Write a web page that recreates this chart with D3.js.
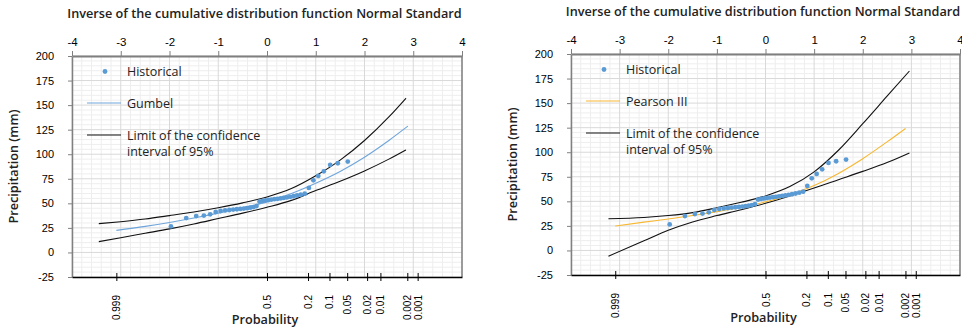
<!DOCTYPE html>
<html>
<head>
<meta charset="utf-8">
<script src="https://cdn.jsdelivr.net/npm/d3@7"></script>
<style>
  body { margin: 0; background: #fff; }
  svg { display: block; }
  .tick text { font-family: "Liberation Sans", Arial, sans-serif; fill: #000; }
  .ttl { font-family: "Open Sans", "Noto Sans", sans-serif; font-weight: 600; fill: #222; }
  .leg { font-family: "Open Sans", "Noto Sans", sans-serif; font-size: 12.5px; fill: #222; }
</style>
</head>
<body>
<svg id="chart" width="962" height="331"></svg>
<script>
// top axis: inverse of standard normal cdf
const zTicks = [-4, -3, -2, -1, 0, 1, 2, 3, 4];
const yTicks = [-25, 0, 25, 50, 75, 100, 125, 150, 175, 200];
// bottom axis: exceedance probability
const probTicks = [0.999, 0.5, 0.2, 0.1, 0.05, 0.02, 0.01, 0.002, 0.001];
const probLabels = ["0.999", "0.5", "0.2", "0.1", "0.05", "0.02", "0.01", "0.002", "0.001"];

// observed precipitation, sorted ascending (plotted at rank / (N+1))
const historicalN = 40;
const historical = [26.5, 35, 37, 37.5, 38.8, 41.2, 42.2, 42.8, 43.2, 43.6,
  44.0, 44.3, 44.7, 45.1, 45.6, 46.2, 47.2, 51.8, 52.5, 53.0,
  53.4, 53.8, 54.2, 54.6, 55.0, 55.5, 56.0, 56.6, 57.2, 58.0,
  58.8, 59.8, 65.7, 73.4, 77.9, 82.6, 89.1, 90.8, 92.5];

// Gumbel fit (left chart), x in standard normal variate
const gumbelZ = [-3.09, -2.5, -2, -1.5, -1, -0.5, 0, 0.5, 1, 1.5, 2, 2.5, 2.89];
const gumbel  = [22.5, 26.5, 30.5, 35, 40, 45.5, 51.5, 60, 70.5, 82.5, 97, 114, 128.6];
const gumUpperZ = [-3.45, -3, -2.5, -2, -1.5, -1, -0.5, 0, 0.5, 1, 1.5, 2, 2.5, 2.85];
const gumUpper  = [29.3, 31.3, 34, 37.5, 41.2, 45.5, 50.5, 56.5, 65, 78, 94, 114, 138, 157];
const gumLowerZ = [-3.45, -3, -2.5, -2, -1.5, -1, -0.5, 0, 0.5, 1, 1.5, 2, 2.5, 2.85];
const gumLower  = [11, 15, 19.5, 24, 29, 34.5, 40, 46, 53, 63, 72.5, 83, 95, 104.4];

// Pearson III fit (right chart)
const pearsonZ = [-3.09, -2.5, -2, -1.5, -1, -0.5, 0, 0.5, 1, 1.5, 2, 2.5, 2.88];
const pearson  = [24.8, 28.8, 32, 35.5, 39.5, 44, 49.5, 56.5, 66, 78.4, 93.4, 110.5, 124.2];
const peaUpperZ = [-3.23, -2.5, -2, -1.5, -1, -0.5, 0, 0.5, 1, 1.5, 2, 2.5, 2.96];
const peaUpper  = [32.3, 33.5, 35.5, 38.5, 43.5, 49, 55.5, 65, 80, 102, 129, 157, 182.7];
const peaLowerZ = [-3.23, -2.5, -2, -1.5, -1, -0.5, 0, 0.5, 1, 1.5, 2, 2.5, 2.96];
const peaLower  = [-5.8, 9.8, 20.5, 29, 35.5, 41.5, 48, 55.5, 63.5, 72, 80.5, 89.5, 99.3];

// Acklam's inverse normal cdf
function normInv(p) {
  const a = [-39.69683028665376, 220.9460984245205, -275.9285104469687, 138.3577518672690, -30.66479806614716, 2.506628277459239];
  const b = [-54.47609879822406, 161.5858368580409, -155.6989798598866, 66.80131188771972, -13.28068155288572];
  const c = [-0.007784894002430293, -0.3223964580411365, -2.400758277161838, -2.549732539343734, 4.374664141464968, 2.938163982698783];
  const d = [0.007784695709041462, 0.3224671290700398, 2.445134137142996, 3.754408661907416];
  const pl = 0.02425;
  let q, r;
  if (p < pl) {
    q = Math.sqrt(-2 * Math.log(p));
    return (((((c[0]*q+c[1])*q+c[2])*q+c[3])*q+c[4])*q+c[5]) / ((((d[0]*q+d[1])*q+d[2])*q+d[3])*q+1);
  } else if (p <= 1 - pl) {
    q = p - 0.5; r = q * q;
    return (((((a[0]*r+a[1])*r+a[2])*r+a[3])*r+a[4])*r+a[5])*q / (((((b[0]*r+b[1])*r+b[2])*r+b[3])*r+b[4])*r+1);
  }
  q = Math.sqrt(-2 * Math.log(1 - p));
  return -(((((c[0]*q+c[1])*q+c[2])*q+c[3])*q+c[4])*q+c[5]) / ((((d[0]*q+d[1])*q+d[2])*q+d[3])*q+1);
}

const svg = d3.select("#chart");
const plain = d => String(d);  // keep "-" hyphen like the original

function drawChart(cfg) {
  const x = d3.scaleLinear().domain([-4, 4]).range([cfg.x0, cfg.x1]);
  const y = d3.scaleLinear().domain([-25, 200]).range([cfg.y1, cfg.y0]);
  const g = svg.append("g");

  // minor grid
  const minorX = d3.range(-40, 41, 2).map(v => v / 10).filter(v => zTicks.indexOf(v) < 0);
  const minorY = d3.range(-25, 201, 5).filter(v => yTicks.indexOf(v) < 0);
  g.append("g").selectAll("line").data(minorX).join("line")
    .attr("x1", d => x(d)).attr("x2", d => x(d))
    .attr("y1", cfg.y0).attr("y2", cfg.y1)
    .attr("stroke", "#eeeeee").attr("stroke-width", 1);
  g.append("g").selectAll("line").data(minorY).join("line")
    .attr("x1", cfg.x0).attr("x2", cfg.x1)
    .attr("y1", d => y(d)).attr("y2", d => y(d))
    .attr("stroke", "#eeeeee").attr("stroke-width", 1);
  // major grid
  g.append("g").selectAll("line").data(zTicks).join("line")
    .attr("x1", d => x(d)).attr("x2", d => x(d))
    .attr("y1", cfg.y0).attr("y2", cfg.y1)
    .attr("stroke", "#d9d9d9").attr("stroke-width", 1);
  g.append("g").selectAll("line").data(yTicks).join("line")
    .attr("x1", cfg.x0).attr("x2", cfg.x1)
    .attr("y1", d => y(d)).attr("y2", d => y(d))
    .attr("stroke", "#d9d9d9").attr("stroke-width", 1);

  // right border
  g.append("line")
    .attr("x1", cfg.x1).attr("x2", cfg.x1)
    .attr("y1", cfg.y0).attr("y2", cfg.y1)
    .attr("stroke", "#808080").attr("stroke-width", 1.5);

  // top axis
  const top = g.append("g")
    .attr("transform", "translate(0," + cfg.y0 + ")")
    .call(d3.axisTop(x).tickValues(zTicks).tickFormat(plain).tickSize(5).tickSizeOuter(0).tickPadding(5));
  top.select(".domain").attr("stroke", "#7f7f7f").attr("stroke-width", 2);
  top.selectAll(".tick line").attr("stroke", "#7f7f7f");
  top.selectAll(".tick text").style("font-size", "11.5px");

  // left axis
  const left = g.append("g")
    .attr("transform", "translate(" + cfg.x0 + ",0)")
    .call(d3.axisLeft(y).tickValues(yTicks).tickFormat(plain).tickSize(4).tickSizeOuter(0).tickPadding(14));
  left.select(".domain").attr("stroke", "#808080").attr("stroke-width", 1.5);
  left.selectAll(".tick line").attr("stroke", "#808080");
  left.selectAll(".tick text").style("font-size", "11px");

  // bottom axis (probability)
  const probZ = probTicks.map(p => normInv(1 - p));
  const bottom = g.append("g")
    .attr("transform", "translate(0," + cfg.y1 + ")")
    .call(d3.axisBottom(x).tickValues(probZ).tickSizeOuter(0)
      .tickFormat((d, i) => probLabels[i]));
  bottom.select(".domain").attr("stroke", "#000").attr("stroke-width", 1.5);
  bottom.selectAll(".tick line").attr("stroke", "#000").attr("y1", -4).attr("y2", 4);
  bottom.selectAll(".tick text")
    .style("font-size", "10px")
    .attr("transform", "rotate(-90)")
    .attr("x", -18).attr("y", 0).attr("dy", "0.35em")
    .attr("text-anchor", "end");

  // confidence limits
  const line = d3.line().x(d => x(d[0])).y(d => y(d[1])).curve(d3.curveMonotoneX);
  g.append("path").datum(d3.zip(cfg.upZ, cfg.up))
    .attr("d", line).attr("fill", "none").attr("stroke", "#111").attr("stroke-width", 1.1);
  g.append("path").datum(d3.zip(cfg.loZ, cfg.lo))
    .attr("d", line).attr("fill", "none").attr("stroke", "#111").attr("stroke-width", 1.1);
  // fitted distribution
  g.append("path").datum(d3.zip(cfg.fitZ, cfg.fit))
    .attr("d", line).attr("fill", "none").attr("stroke", cfg.fitColor).attr("stroke-width", 1.1);

  // historical points
  g.append("g").selectAll("circle").data(historical).join("circle")
    .attr("cx", (d, i) => x(normInv((i + 1) / (historicalN + 1))))
    .attr("cy", d => y(d))
    .attr("r", 2.4)
    .attr("fill", "#5b9bd5");

  // titles
  g.append("text").attr("class", "ttl")
    .attr("x", (cfg.x0 + cfg.x1) / 2 - 2.5).attr("y", cfg.y0 - 38)
    .attr("text-anchor", "middle").style("font-size", "12.7px")
    .text("Inverse of the cumulative distribution function Normal Standard");
  g.append("text").attr("class", "ttl")
    .attr("transform", "translate(" + (cfg.x0 - 54) + "," + ((cfg.y0 + cfg.y1) / 2) + ") rotate(-90)")
    .attr("text-anchor", "middle").style("font-size", "12.7px")
    .text("Precipitation (mm)");
  g.append("text").attr("class", "ttl")
    .attr("x", (cfg.x0 + cfg.x1) / 2 - 2).attr("y", cfg.y1 + 47)
    .attr("text-anchor", "middle").style("font-size", "12.7px")
    .text("Probability");

  // legend
  const lx = cfg.x0;
  const ly = cfg.y0;
  g.append("circle").attr("cx", lx + 33).attr("cy", ly + 15.5).attr("r", 2.4).attr("fill", "#5b9bd5");
  g.append("text").attr("class", "leg").attr("x", lx + 55).attr("y", ly + 20).text("Historical");
  g.append("line").attr("x1", lx + 15).attr("x2", lx + 49).attr("y1", ly + 47).attr("y2", ly + 47)
    .attr("stroke", cfg.fitColor).attr("stroke-width", 1.2);
  g.append("text").attr("class", "leg").attr("x", lx + 55).attr("y", ly + 51.5).text(cfg.fitName);
  g.append("line").attr("x1", lx + 15).attr("x2", lx + 49).attr("y1", ly + 79).attr("y2", ly + 79)
    .attr("stroke", "#111").attr("stroke-width", 1.2);
  g.append("text").attr("class", "leg").attr("x", lx + 55).attr("y", ly + 83.5).text("Limit of the confidence");
  g.append("text").attr("class", "leg").attr("x", lx + 55).attr("y", ly + 100).text("interval of 95%");
}

drawChart({
  x0: 72, x1: 462, y0: 56, y1: 277,
  fitZ: gumbelZ, fit: gumbel, fitName: "Gumbel", fitColor: "#6fa5db",
  upZ: gumUpperZ, up: gumUpper, loZ: gumLowerZ, lo: gumLower
});
drawChart({
  x0: 571, x1: 960, y0: 54, y1: 275,
  fitZ: pearsonZ, fit: pearson, fitName: "Pearson III", fitColor: "#f7b731",
  upZ: peaUpperZ, up: peaUpper, loZ: peaLowerZ, lo: peaLower
});
</script>
</body>
</html>
